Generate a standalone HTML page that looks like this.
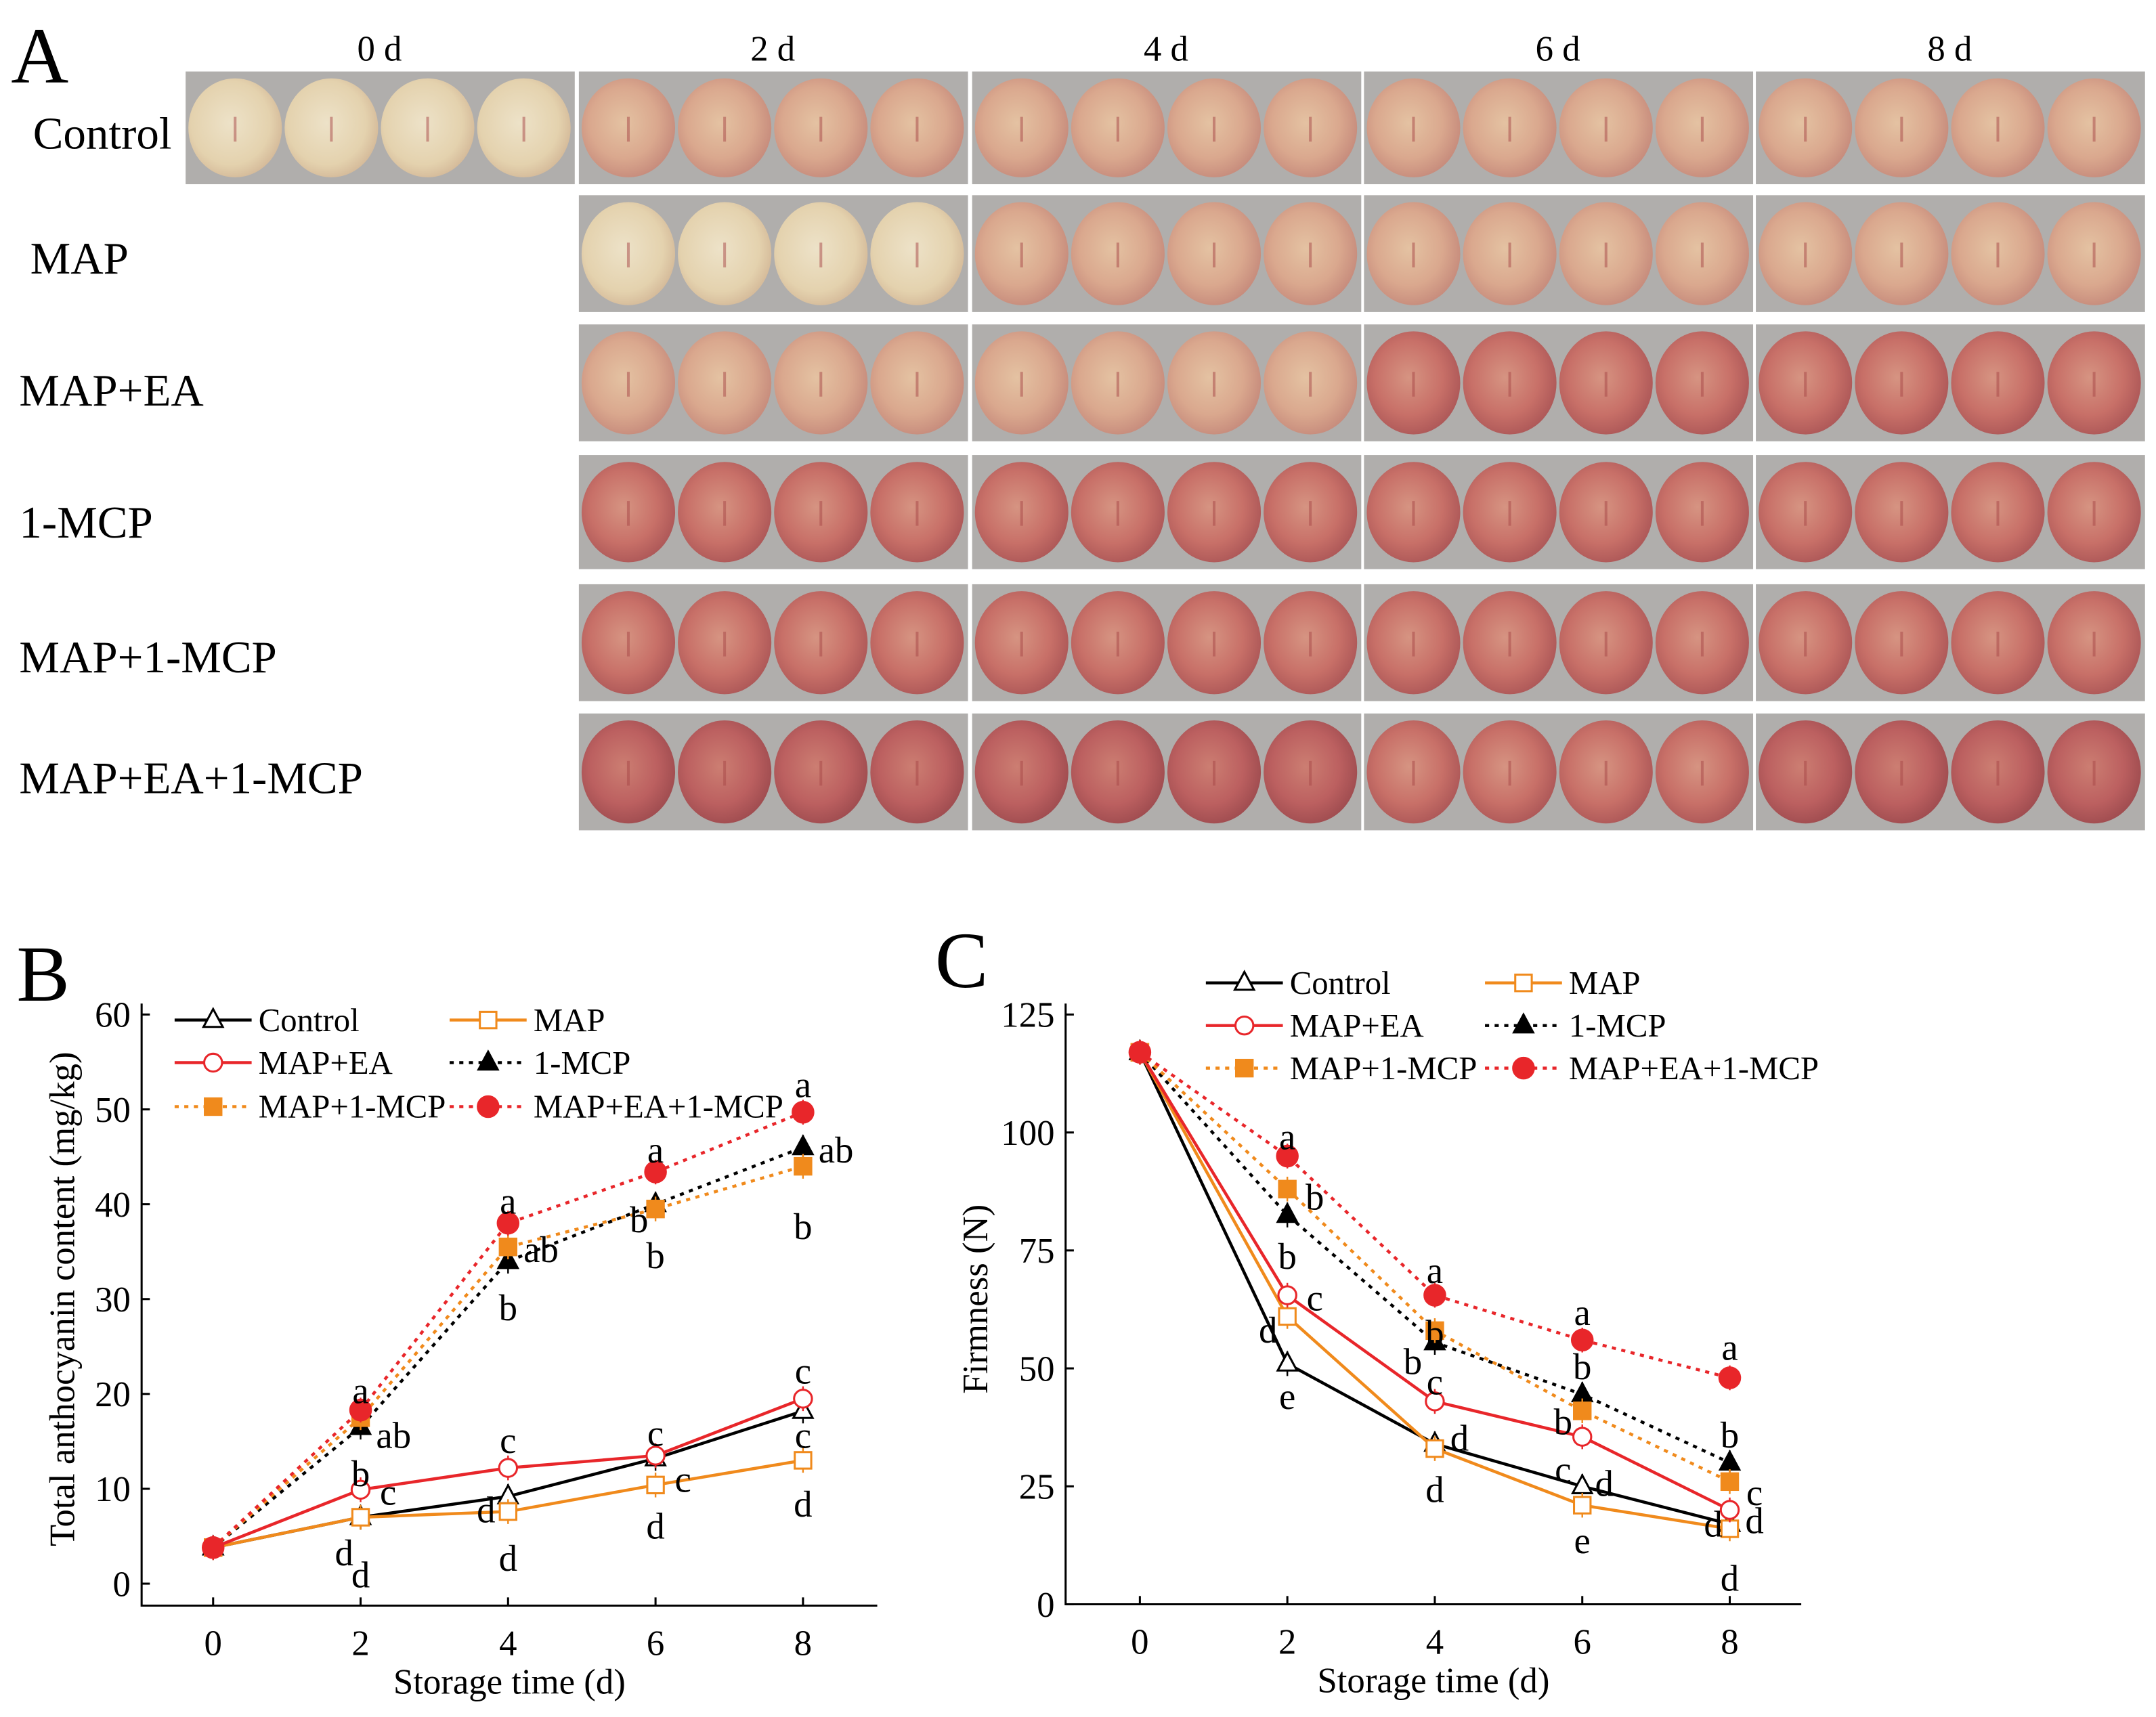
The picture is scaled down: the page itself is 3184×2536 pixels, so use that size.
<!DOCTYPE html>
<html><head><meta charset="utf-8"><style>
html,body{margin:0;padding:0;background:#fff;}
svg{display:block;font-family:"Liberation Serif",serif;}
</style></head><body>
<svg id="fig" width="3184" height="2536" viewBox="0 0 1568 1249" preserveAspectRatio="none" xmlns="http://www.w3.org/2000/svg">
<defs>
<radialGradient id="pale" cx="45%" cy="45%" r="60%"><stop offset="0" stop-color="#ede2c8"/><stop offset="0.7" stop-color="#e4d2ae"/><stop offset="1" stop-color="#d2b696"/></radialGradient>
<radialGradient id="mid" cx="45%" cy="45%" r="60%"><stop offset="0" stop-color="#e4c2a2"/><stop offset="0.6" stop-color="#daa88e"/><stop offset="1" stop-color="#c4887a"/></radialGradient>
<radialGradient id="red" cx="45%" cy="45%" r="60%"><stop offset="0" stop-color="#d69482"/><stop offset="0.6" stop-color="#c87068"/><stop offset="1" stop-color="#aa5556"/></radialGradient>
<radialGradient id="dred" cx="45%" cy="45%" r="60%"><stop offset="0" stop-color="#cc7e72"/><stop offset="0.6" stop-color="#bc6060"/><stop offset="1" stop-color="#9c4a4e"/></radialGradient>
</defs>
<g id="panelA"></g>
<g id="chartB"></g>
<g id="chartC"></g>
</svg>
<script>
const NS='http://www.w3.org/2000/svg';
function mk(parent,tag,attrs,text){const e=document.createElementNS(NS,tag);for(const k in attrs)e.setAttribute(k,attrs[k]);if(text!==undefined)e.textContent=text;parent.appendChild(e);return e;}

// ---------- Panel A ----------
const dayLabels=['0 d','2 d','4 d','6 d','8 d'];
const treatments=['Control','MAP','MAP+EA','1-MCP','MAP+1-MCP','MAP+EA+1-MCP'];
const colX=[135,421,707,992,1277];
const rowY=[[52,134],[142,227],[236,321],[331,414],[425,510],[519,604]];
const rowLabelY=[97,188,284,380,478,566];
const shade=[['pale','mid','mid','mid','mid'],[null,'pale','mid','mid','mid'],[null,'mid','mid','red','red'],[null,'red','red','red','red'],[null,'red','red','red','red'],[null,'dred','dred','red','dred']];
const A=document.getElementById('panelA');
let t=mk(A,'text',{x:8,y:60,'font-size':58},'A');


dayLabels.forEach((d,i)=>{const e=mk(A,'text',{x:colX[i]+141,y:44,'font-size':26,'text-anchor':'middle'},d);

});
treatments.forEach((tr,r)=>{const e=mk(A,'text',{x:r==0?24:(r==1?22:14),y:rowLabelY[r]+11,'font-size':33},tr);


for(let c=0;c<5;c++){ if(!shade[r][c])continue;
 const y0=rowY[r][0],y1=rowY[r][1];
 const g=mk(A,'g',{});
 
 
 mk(g,'rect',{x:colX[c],y:y0,width:283,height:y1-y0,fill:'#b0aeac'});
 for(let k=0;k<4;k++){const cx=colX[c]+36+k*70,cy=(y0+y1)/2;
  mk(g,'ellipse',{cx:cx,cy:cy,rx:34,ry:(y1-y0)/2-5,fill:'url(#'+shade[r][c]+')'});
  mk(g,'path',{d:`M${cx} ${cy-8} l0 18`,stroke:'#a84848','stroke-width':2,opacity:0.5});}
}});

// ---------- Line charts ----------
const xDays=[0,2,4,6,8];
const seriesNames=['Control','MAP','MAP+EA','1-MCP','MAP+1-MCP','MAP+EA+1-MCP'];
const seriesColors=['#000','#f08a1c','#e8262a','#000','#f08a1c','#e8262a'];
const seriesDash=[null,null,null,'3,4','3,4','3,4'];
const seriesMarker=['tri-o','sq-o','circ-o','tri-f','sq-f','circ-f'];

const bControl=[3.8,7.0,9.2,13.2,18.2];
const bMAP=[3.8,7.0,7.6,10.4,13.0];
const bMAPEA=[3.8,9.9,12.2,13.5,19.5];
const bMCP=[3.8,16.5,34.0,40.0,46.0];
const bMAPMCP=[3.8,17.5,35.5,39.5,44.0];
const bAll=[3.8,18.3,38.0,43.4,49.7];
const bTicks=[0,10,20,30,40,50,60];
const bLetters=[[2,18.3,'a',0,-14],[2,16.5,'ab',24,6],[2,16.5,'b',0,34],[2,9.9,'c',20,2],[2,7,'d',-12,26],[2,7,'d',0,42],
[4,38,'a',0,-16],[4,35.5,'ab',24,2],[4,34,'b',0,34],[4,12.2,'c',0,-20],[4,9.2,'d',-16,10],[4,7.6,'d',0,34],
[6,43.4,'a',0,-16],[6,39.5,'b',-12,8],[6,39.5,'b',0,34],[6,13.5,'c',0,-16],[6,10.4,'c',20,-4],[6,10.4,'d',0,30],
[8,49.7,'a',0,-20],[8,46,'ab',24,2],[8,44,'b',0,44],[8,19.5,'c',0,-20],[8,13,'c',0,-18],[8,13,'d',0,32]];

const cControl=[117,51,34,25,17];
const cMAP=[117,61,33,21,16];
const cMAPEA=[117,65.5,43,35.5,20];
const cMCP=[117,82.5,55.5,44.5,30];
const cMAPMCP=[117,88,58,41,26];
const cAll=[117,95,65.5,56,48];
const cTicks=[0,25,50,75,100,125];
const cLetters=[[2,95,'a',0,-14],[2,88,'b',20,6],[2,82.5,'b',0,30],[2,65.5,'c',20,2],[2,61,'d',-14,10],[2,51,'e',0,24],
[4,65.5,'a',0,-18],[4,58,'b',0,2],[4,55.5,'b',-16,14],[4,43,'c',0,-14],[4,34,'d',18,-4],[4,33,'d',0,30],
[6,56,'a',0,-20],[6,44.5,'b',0,-20],[6,41,'b',-14,8],[6,35.5,'c',-14,24],[6,25,'d',16,-2],[6,21,'e',0,26],
[8,48,'a',0,-22],[8,30,'b',0,-20],[8,26,'c',18,8],[8,20,'d',18,8],[8,17,'d',-12,0],[8,16,'d',0,36]];

function marker(g,type,x,y,color){
 const filled=type.endsWith('-f');const f=filled?color:'#fff';
 if(type.startsWith('tri'))return mk(g,'path',{d:`M${x} ${y-8}L${x+7} ${y+5}L${x-7} ${y+5}Z`,fill:f,stroke:color,'stroke-width':1.5});
 if(type.startsWith('sq'))return mk(g,'rect',{x:x-6,y:y-6,width:12,height:12,fill:f,stroke:color,'stroke-width':1.5});
 return mk(g,'circle',{cx:x,cy:y,r:filled?7.5:6.5,fill:f,stroke:color,'stroke-width':1.5});
}

function chart(id,cfg){
 const G=document.getElementById(id);
 const X=d=>cfg.x0+(d/8)*(cfg.x8-cfg.x0);
 const Y=v=>cfg.y0-(v/cfg.ymax)*(cfg.y0-cfg.ytop);
 let e=mk(G,'text',{x:cfg.panelX,y:cfg.panelY,'font-size':58},cfg.panel);
 
 
 e=mk(G,'path',{d:`M${cfg.axL} ${cfg.axTop}V${cfg.axB}H${cfg.axR}`,fill:'none',stroke:'#000','stroke-width':1.5});
 
 
 cfg.ticks.forEach(v=>{mk(G,'line',{x1:cfg.axL,x2:cfg.axL+6,y1:Y(v),y2:Y(v),stroke:'#000','stroke-width':1.5});
  const l=mk(G,'text',{x:cfg.axL-8,y:Y(v)+9,'font-size':26,'text-anchor':'end'},v);
  
  });
 xDays.forEach(d=>{mk(G,'line',{x1:X(d),x2:X(d),y1:cfg.axB,y2:cfg.axB-6,stroke:'#000','stroke-width':1.5});
  const l=mk(G,'text',{x:X(d),y:cfg.axB+36,'font-size':26,'text-anchor':'middle'},d);
  
  });
 e=mk(G,'text',{x:(cfg.axL+cfg.axR)/2,y:cfg.axB+64,'font-size':26,'text-anchor':'middle'},'Storage time (d)');
 
 
 e=mk(G,'text',{x:0,y:0,'font-size':26,'text-anchor':'middle',transform:`translate(${cfg.ylabX},${cfg.ylabY}) rotate(-90)`},cfg.ylab);
 
 
 cfg.data.forEach((vals,i)=>{
  const s=mk(G,'g',{});
  
  
  const a={points:vals.map((v,k)=>X(xDays[k])+','+Y(v)).join(' '),fill:'none',stroke:seriesColors[i],'stroke-width':2.2};
  if(seriesDash[i])a['stroke-dasharray']=seriesDash[i];
  mk(s,'polyline',a);
  vals.forEach((v,k)=>{mk(s,'line',{x1:X(xDays[k]),x2:X(xDays[k]),y1:Y(v)-9,y2:Y(v)+9,stroke:seriesColors[i],'stroke-width':1.2});
   const m=marker(s,seriesMarker[i],X(xDays[k]),Y(v),seriesColors[i]);
   
   });
 });
 cfg.letters.forEach(L=>{const l=mk(G,'text',{x:X(L[0])+L[3],y:Y(L[1])+L[4]+9,'font-size':27,'text-anchor':'middle'},L[2]);
  
  });
 // legend
 cfg.data.forEach((v,i)=>{const col=i%2,row=Math.floor(i/2);
  const lx=cfg.legX[col],ly=cfg.legY[row];
  const lg=mk(G,'g',{});
  
  
  const a={x1:lx,x2:lx+56,y1:ly,y2:ly,stroke:seriesColors[i],'stroke-width':2.2};
  if(seriesDash[i])a['stroke-dasharray']=seriesDash[i];
  mk(lg,'line',a);
  marker(lg,seriesMarker[i],lx+28,ly,seriesColors[i]);
  mk(lg,'text',{x:lx+61,y:ly+8,'font-size':24},seriesNames[i]);
 });
}
chart('chartB',{panel:'B',panelX:12,panelY:728,x0:155,x8:584,y0:1152,ytop:738,ymax:60,ticks:bTicks,axL:103,axR:638,axTop:730,axB:1168,
 ylab:'Total anthocyanin content (mg/kg)',ylabX:54,ylabY:945,data:[bControl,bMAP,bMAPEA,bMCP,bMAPMCP,bAll],letters:bLetters,legX:[127,327],legY:[742,773,805]});
chart('chartC',{panel:'C',panelX:680,panelY:718,x0:829,x8:1258,y0:1167,ytop:738,ymax:125,ticks:cTicks,axL:775,axR:1310,axTop:730,axB:1167,
 ylab:'Firmness (N)',ylabX:718,ylabY:945,data:[cControl,cMAP,cMAPEA,cMCP,cMAPMCP,cAll],letters:cLetters,legX:[877,1080],legY:[715,746,777]});
</script>
</body></html>
